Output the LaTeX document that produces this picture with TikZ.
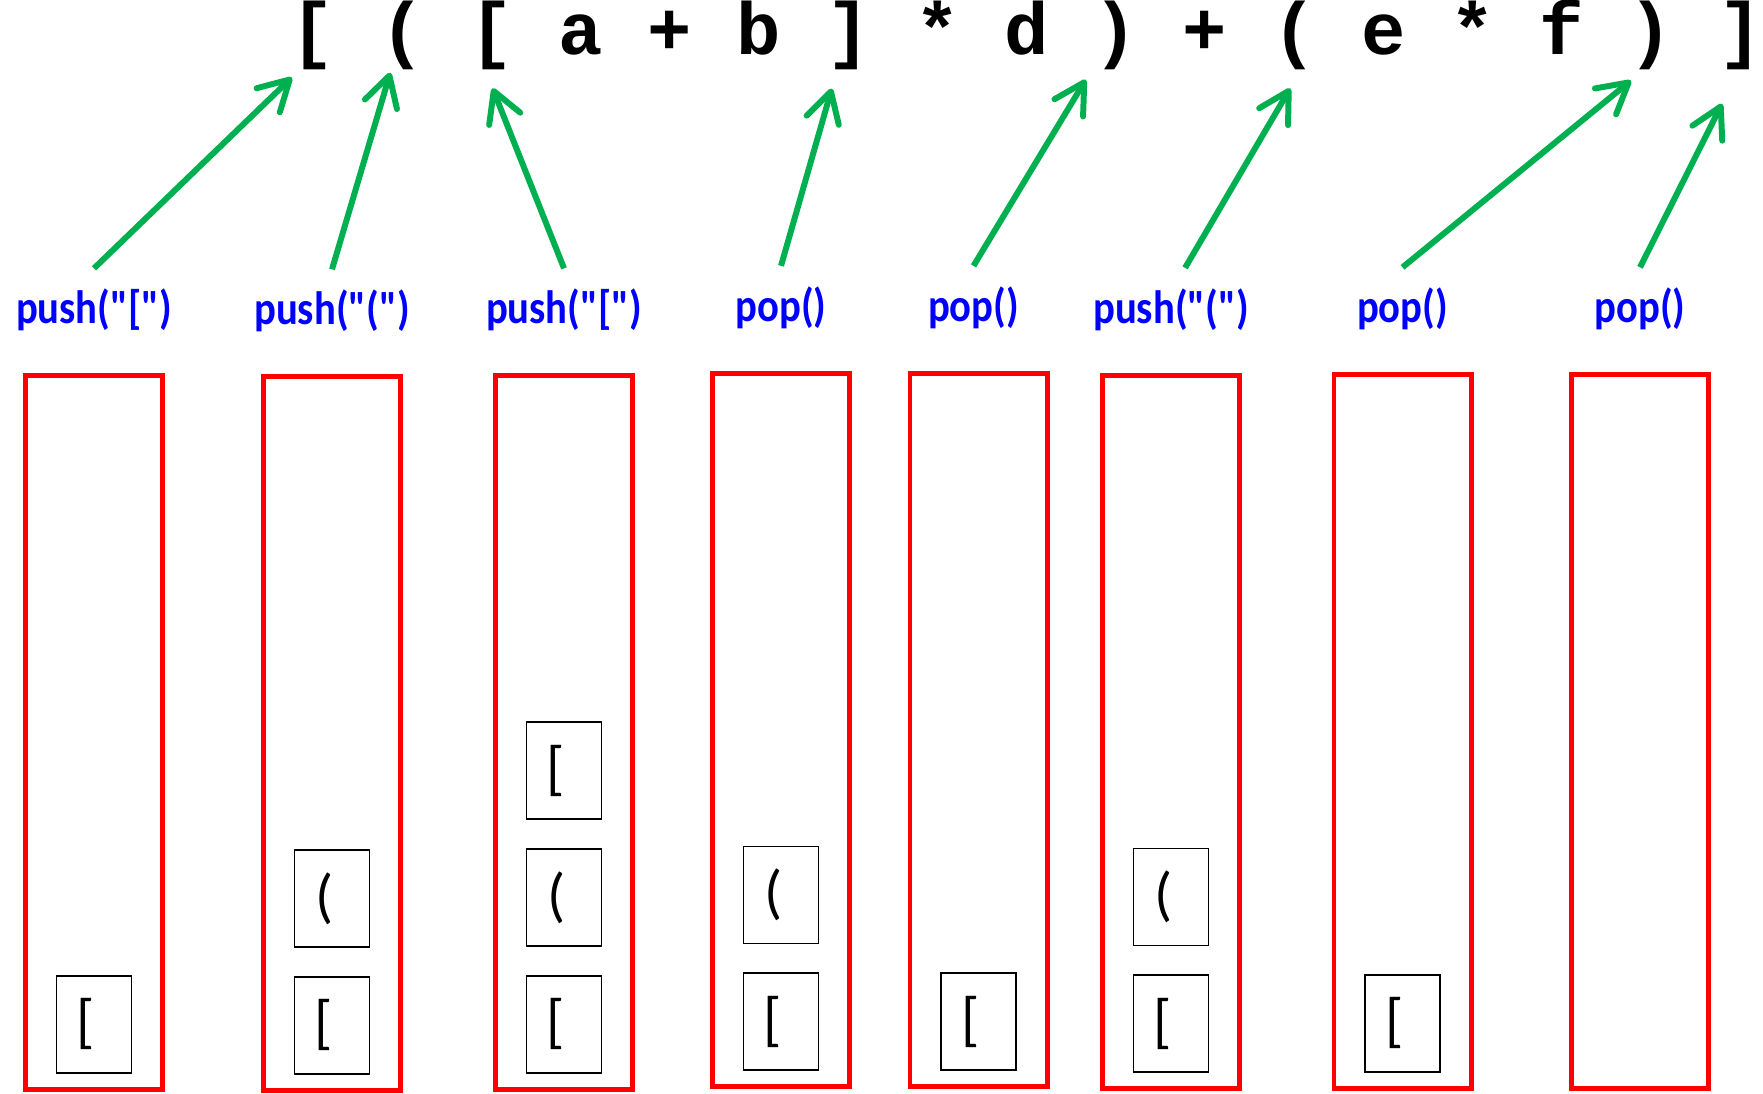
\documentclass[tikz,border=0pt]{standalone}
\usepackage{fontspec}
\usepackage{tikz}
\usetikzlibrary{positioning,arrows.meta}
\newfontfamily\exprfont{Liberation Mono}
\newfontfamily\lblfont{Carlito}[FakeStretch=0.87]
\newfontfamily\cellfont{Carlito}
\definecolor{arrowgreen}{RGB}{0,176,80}
\definecolor{lblblue}{RGB}{0,0,255}
\definecolor{stackred}{RGB}{255,0,0}

\tikzset{
	tok/.style={inner sep=0pt, anchor=base, text height=13.4pt, text depth=3.4pt, font=\exprfont\bfseries\fontsize{21}{21}\selectfont},
	lbl/.style={inner sep=0pt, text=lblblue, text height=10pt, text depth=3pt, font=\lblfont\bfseries\fontsize{13.3}{14}\selectfont},
	stackbox/.style={draw=stackred, line width=1.4pt, minimum width=1.37cm, minimum height=7.13cm, inner sep=0pt},
	cell/.style={draw, line width=0.5pt, minimum width=0.75cm, minimum height=0.97cm, inner sep=0pt, font=\cellfont\fontsize{17}{17}\selectfont, execute at end node={\hspace{4.5pt}}},
	arr/.style={-{Straight Barb[round,length=8.5pt,width=9.5pt]}, draw=arrowgreen, line width=1.7pt}
}

\begin{document}
\begin{tikzpicture}[x=0.01cm, y=-0.01cm]
	\useasboundingbox (0,0) rectangle (1763,1094);

	% the expression
	\foreach \c [count=\i from 0] in {{[},{(},{[},a,+,b,{]},*,d,{)},+,{(},e,*,f,{)},{]}}
		\node[tok] (t\i) at (313+89.2*\i,55) {\c};

	% stacks
	\foreach \i/\x/\y in {1/94/732.5, 2/332/733.5, 3/564/732.5, 4/781/730, 5/978.5/730, 6/1171/732, 7/1402.5/731.5, 8/1640/731.5}
		\node[stackbox] (s\i) at (\x,\y) {};

	% operations
	\node[lbl, above=0.385cm of s1] (l1) {push("[")};
	\node[lbl, above=0.385cm of s2] (l2) {push("(")};
	\node[lbl, above=0.385cm of s3] (l3) {push("[")};
	\node[lbl, above=0.385cm of s4] (l4) {pop()};
	\node[lbl, above=0.385cm of s5, xshift=-0.05cm] (l5) {pop()};
	\node[lbl, above=0.385cm of s6] (l6) {push("(")};
	\node[lbl, above=0.385cm of s7] (l7) {pop()};
	\node[lbl, above=0.385cm of s8] (l8) {pop()};

	% stack contents
	\node[cell, above=0.18cm of s1.south] (s1a) {[};

	\node[cell, above=0.18cm of s2.south] (s2a) {[};
	\node[cell, above=0.28cm of s2a] (s2b) {(};

	\node[cell, above=0.18cm of s3.south] (s3a) {[};
	\node[cell, above=0.28cm of s3a] (s3b) {(};
	\node[cell, above=0.28cm of s3b] (s3c) {[};

	\node[cell, above=0.18cm of s4.south] (s4a) {[};
	\node[cell, above=0.28cm of s4a] (s4b) {(};

	\node[cell, above=0.18cm of s5.south] (s5a) {[};

	\node[cell, above=0.18cm of s6.south] (s6a) {[};
	\node[cell, above=0.28cm of s6a] (s6b) {(};

	\node[cell, above=0.18cm of s7.south] (s7a) {[};

	% arrows
	\foreach \l/\t/\a/\s/\d in {1/0/-110/4pt/0pt, 2/1/-109/1.5pt/0pt, 3/2/-103/6.3pt/0pt, 4/6/-109/6.2pt/0pt, 5/9/-127/4pt/0pt, 6/11/-75/6.8pt/4pt, 7/15/-98/5.8pt/0pt, 8/16/-90/11.5pt/0pt}
		\draw[arr, shorten >=\s] ([xshift=\d, yshift=5.5pt]l\l.north) -- (t\t.\a);

\end{tikzpicture}
\end{document}
